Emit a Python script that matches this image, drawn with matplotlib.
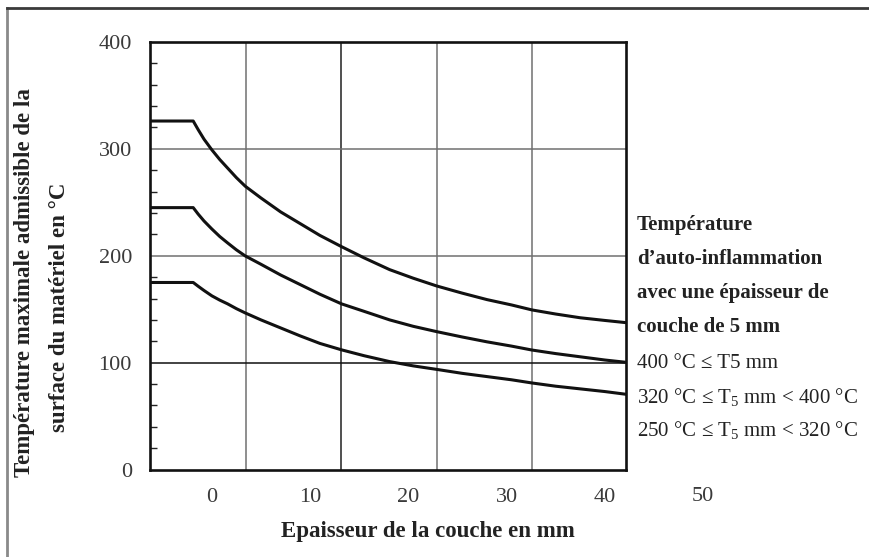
import matplotlib
matplotlib.use("Agg")
import matplotlib.pyplot as plt
from matplotlib.lines import Line2D
from matplotlib.ticker import MultipleLocator

plt.rcParams['mathtext.fontset'] = 'custom'
plt.rcParams['mathtext.rm'] = 'Liberation Serif'
plt.rcParams['mathtext.it'] = 'Liberation Serif:italic'

# ---- data (x in units of the printed tick labels) ----
x_pts = [-6.3, -1.9, -1.4, -0.8, 0, 0.8, 1.6, 2.5, 3.4, 5, 7, 9, 11, 13.2, 15.5, 18.1, 20.5,
         22.9, 25.5, 28, 30.5, 32.6, 35, 37.5, 40, 42.2]
y_top = [326, 326, 318, 309, 299, 290, 282, 273, 265, 254, 241, 230, 219, 208.5, 198, 187, 179,
         171.7, 165, 159, 154, 149.3, 145.5, 142, 139.5, 137.4]
y_mid = [245, 245, 239, 232.5, 225, 218, 212, 205.5, 199.8, 192, 182, 173, 164, 155, 148, 140, 134,
         129, 124, 119.5, 115.5, 111.8, 108.5, 105.5, 102.5, 100.3]
y_low = [175, 175, 171.5, 167.5, 162.5, 158.5, 155, 150.5, 146.5, 140, 132.5, 125, 118, 112, 106.5, 101, 97,
         93.7, 90, 87, 84, 81, 78, 75.5, 73, 70.4]

x_ticks = [0, 10, 20, 30, 40]
x_ticklabels = ["0", "10", "20", "30", "40"]
x_extra_tick = 50
y_ticks = [0, 100, 200, 300, 400]
x_grid = [3.44, 13.19, 22.88, 32.58]

legend_lines = [
    ("Température", True),
    ("d’auto-inflammation", True),
    ("avec une épaisseur de", True),
    ("couche de 5 mm", True),
    ("400 °C ≤ T5 mm", False),
    ("320 °C ≤ T$_5$ mm < 400 °C", False),
    ("250 °C ≤ T$_5$ mm < 320 °C", False),
]

serif = ['Liberation Serif', 'DejaVu Serif']

fig = plt.figure(figsize=(8.69, 5.57), dpi=100)
ax = fig.add_axes([150/869, 1-469.6/557, (626.4-150)/869, (469.6-41.9)/557])

ax.set_xlim(-6.3, 42.2)
ax.set_ylim(0, 400)

# grid lines
for i, gx in enumerate(x_grid):
    ax.axvline(gx, color='#202020' if i == 1 else '#707070', lw=1.1, zorder=1)
for gy in [100, 200, 300]:
    ax.axhline(gy, color='#101010' if gy == 100 else '#707070', lw=1.1, zorder=1)

for ys in (y_top, y_mid, y_low):
    ax.plot(x_pts, ys, color='#111111', lw=2.2, solid_capstyle='butt',
            solid_joinstyle='round', zorder=3)

for s in ax.spines.values():
    s.set_linewidth(1.9)
    s.set_color('#111111')

ax.set_yticks(y_ticks)
ax.set_yticklabels([str(v) for v in y_ticks], family=serif, fontsize=16, color='#3a3a3a')
ax.yaxis.set_minor_locator(MultipleLocator(20))
ax.tick_params(axis='y', which='major', length=0, pad=13)
ax.tick_params(axis='y', which='minor', direction='in', length=5, width=1.0, color='#222222')
ax.set_xticks(x_ticks)
ax.set_xticklabels(x_ticklabels, family=serif, fontsize=16, color='#3a3a3a')
ax.tick_params(axis='x', which='both', length=0, pad=13)
ax.text(x_extra_tick, -17.5/1.069, "50", fontsize=16, family=serif, color='#3a3a3a',
        ha='center', va='top', clip_on=False)

fig.text(428/869, 1-531/557, "Epaisseur de la couche en mm", ha='center', va='center',
         family=serif, fontsize=16.5, fontweight='bold', color='#222222')

fig.text(25/869, 1-283/557, "Température maximale admissible de la", rotation=90,
         ha='center', va='center', family=serif, fontsize=16.5, fontweight='bold', color='#222222')
fig.text(60/869, 1-307/557, "surface du matériel en °C", rotation=90,
         ha='center', va='center', family=serif, fontsize=16.5, fontweight='bold', color='#222222')

ly = [225, 259, 293, 327, 363, 397, 430]
for (txt, bold), yy in zip(legend_lines, ly):
    fig.text(637/869, 1-yy/557, txt, ha='left', va='center', family=serif,
             fontsize=15, fontweight='bold' if bold else 'normal', color='#222222')

# outer frame
fig.add_artist(Line2D([6.7/869, 6.7/869], [0, 1-8.3/557], transform=fig.transFigure,
                      color='#8a8a8a', lw=2))
fig.add_artist(Line2D([6.7/869, 1], [1-8.3/557, 1-8.3/557], transform=fig.transFigure,
                      color='#3a3a3a', lw=2))

fig.savefig("out.png", dpi=100)
